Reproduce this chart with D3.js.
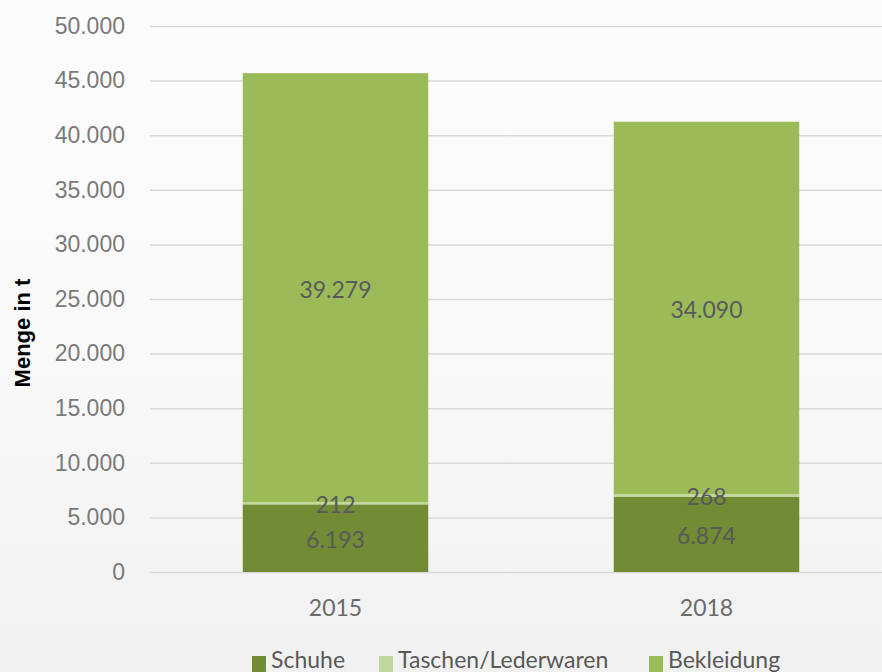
<!DOCTYPE html>
<meta charset="utf-8">
<script src="https://d3js.org/d3.v7.min.js"></script>
<style>
  body { margin: 0; }
  svg { display: block; font-family: Lato, "Open Sans", sans-serif; }
</style>
<div id="my_dataviz"></div>
<script>
  // data
  const years = ["2015", "2018"];
  const series = ["Schuhe", "Taschen/Lederwaren", "Bekleidung"];
  const schuhe = [6193, 6874];
  const taschen = [212, 268];
  const bekleidung = [39279, 34090];
  const yTicks = [0, 5000, 10000, 15000, 20000, 25000, 30000, 35000, 40000, 45000, 50000];
  const colors = ["#718c35", "#c3d69b", "#9bbb59"];

  const W = 882, H = 672;
  const margin = {top: 26, right: -10, bottom: 100, left: 150};
  const width = W - margin.left - margin.right,
        height = H - margin.top - margin.bottom;

  const svgRoot = d3.select("#my_dataviz")
    .append("svg")
      .attr("width", W)
      .attr("height", H);

  // soft background
  const defs = svgRoot.append("defs");
  const bg = defs.append("linearGradient").attr("id", "bg")
    .attr("x1", 0).attr("y1", 0).attr("x2", 0).attr("y2", 1);
  bg.append("stop").attr("offset", "0%").attr("stop-color", "#fcfcfc");
  bg.append("stop").attr("offset", "55%").attr("stop-color", "#f9f9f9");
  bg.append("stop").attr("offset", "100%").attr("stop-color", "#f0f1f0");
  svgRoot.append("rect").attr("width", W).attr("height", H).attr("fill", "url(#bg)");

  const svg = svgRoot.append("g")
    .attr("transform", `translate(${margin.left},${margin.top})`);

  // scales
  const x = d3.scaleBand()
    .domain(years)
    .range([0, width])
    .paddingInner(0.5)
    .paddingOuter(0.25);

  const y = d3.scaleLinear()
    .domain([0, 50000])
    .range([height, 0]);

  const fmt = d3.formatLocale({decimal: ",", thousands: ".", grouping: [3], currency: ["", "€"]}).format(",d");

  // grid + y labels
  const yAxis = svg.append("g")
    .call(d3.axisLeft(y).tickValues(yTicks).tickSize(-width).tickFormat(fmt).tickPadding(25));
  yAxis.select(".domain").remove();
  yAxis.selectAll(".tick line").attr("stroke", "#d9d9d9").attr("stroke-width", 1.5);
  yAxis.selectAll(".tick text")
    .attr("fill", "#7a7a7a")
    .style("font-size", "23px");

  // stacked data
  const table = years.map((yr, i) => ({year: yr, Schuhe: schuhe[i], "Taschen/Lederwaren": taschen[i], Bekleidung: bekleidung[i]}));
  const stacked = d3.stack().keys(series)(table);

  svg.append("g")
    .selectAll("g")
    .data(stacked)
    .join("g")
      .attr("fill", (d, i) => colors[i])
    .selectAll("rect")
    .data(d => d)
    .join("rect")
      .attr("x", d => x(d.data.year))
      .attr("y", d => y(d[1]))
      .attr("width", x.bandwidth())
      .attr("height", d => y(d[0]) - y(d[1]));

  // value labels (on top of all bars)
  svg.append("g")
    .selectAll("g")
    .data(stacked)
    .join("g")
    .selectAll("text")
    .data(d => d)
    .join("text")
      .attr("x", d => x(d.data.year) + x.bandwidth() / 2)
      .attr("y", d => y((d[0] + d[1]) / 2) + 1)
      .attr("text-anchor", "middle")
      .attr("dominant-baseline", "central")
      .attr("fill", "#595959")
      .style("font-size", "23px")
      .text(d => fmt(d[1] - d[0]));

  // x axis labels
  svg.append("g")
    .selectAll("text")
    .data(years)
    .join("text")
      .attr("x", d => x(d) + x.bandwidth() / 2)
      .attr("y", height + 35)
      .attr("text-anchor", "middle")
      .attr("dominant-baseline", "central")
      .attr("fill", "#6b6b6b")
      .style("font-size", "23px")
      .text(d => d);

  // y title
  svgRoot.append("text")
    .attr("transform", `translate(30, 333) rotate(-90)`)
    .attr("text-anchor", "middle")
    .attr("fill", "#000")
    .style("font-family", "'Liberation Sans', Arial, sans-serif")
    .style("font-size", "22px")
    .style("font-weight", "bold")
    .text("Menge in t");

  // legend
  const legendX = [252, 379, 649];
  const legend = svgRoot.append("g")
    .selectAll("g")
    .data(series)
    .join("g")
      .attr("transform", (d, i) => `translate(${legendX[i]}, 656)`);
  legend.append("rect")
    .attr("width", 14).attr("height", 16)
    .attr("fill", (d, i) => colors[i]);
  legend.append("text")
    .attr("x", 19)
    .attr("y", 12)
    .attr("fill", "#595959")
    .style("font-size", "23px")
    .text(d => d);
</script>
